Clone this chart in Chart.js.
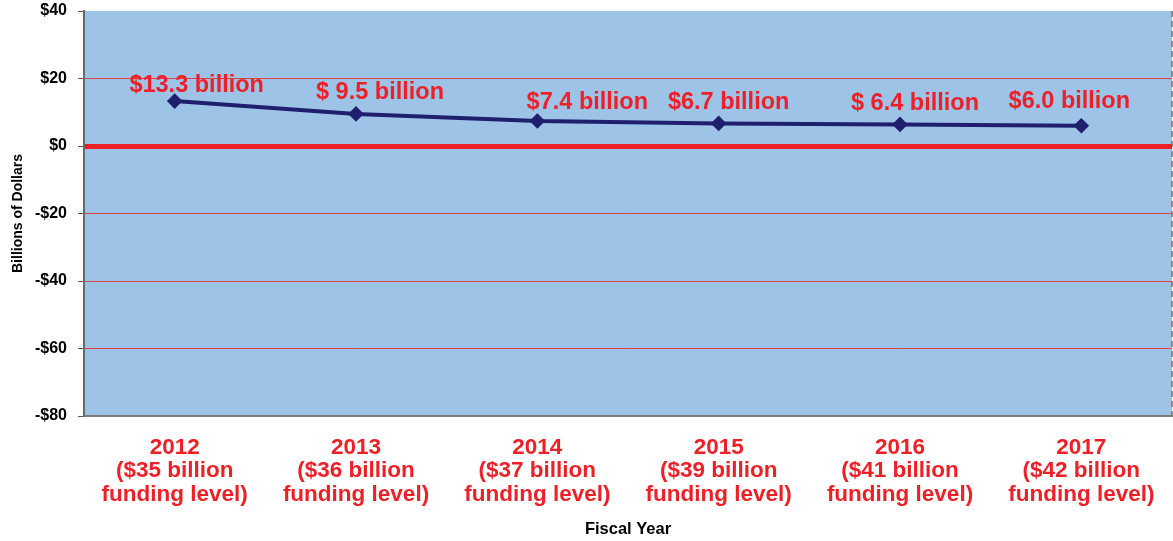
<!DOCTYPE html>
<html>
<head>
<meta charset="utf-8">
<script src="https://cdn.jsdelivr.net/npm/chart.js@4.4.1/dist/chart.umd.min.js"></script>
<style>
  html, body { margin: 0; padding: 0; background: #fff; }
  #wrap { width: 1173px; height: 541px; }
</style>
</head>
<body>
<div id="wrap"><canvas id="chart" width="1173" height="541"></canvas></div>
<script>
// data
const years = ["2012", "2013", "2014", "2015", "2016", "2017"];
const funding = ["$35", "$36", "$37", "$39", "$41", "$42"];
const values = [13.3, 9.5, 7.4, 6.7, 6.4, 6.0];
const valueLabels = ["$13.3 billion", "$ 9.5 billion", "$7.4 billion", "$6.7 billion", "$ 6.4 billion", "$6.0 billion"];
const yTicks = [40, 20, 0, -20, -40, -60, -80];

const RED = "#ee2027";
const FONT = "'Liberation Sans', Arial, sans-serif";

// plot background + right border
const plotBg = {
  id: "plotBg",
  beforeDraw(chart) {
    const { ctx, chartArea: a } = chart;
    ctx.save();
    ctx.fillStyle = "#9dc3e6";
    ctx.fillRect(a.left, a.top, a.right - a.left, a.bottom - a.top);
    ctx.strokeStyle = "#888";
    ctx.lineWidth = 2;
    ctx.setLineDash([6, 4]);
    ctx.beginPath();
    ctx.moveTo(a.right, a.top);
    ctx.lineTo(a.right, a.bottom);
    ctx.stroke();
    ctx.restore();
  }
};

// red value labels above the points (small nudges like the original)
const labelShift = [22, 24, 50, 10, 15, -12];
const labelRise = [15.5, 21, 19, 21, 21, 24];
const valueLabelPlugin = {
  id: "valueLabels",
  afterDatasetsDraw(chart) {
    const { ctx } = chart;
    const pts = chart.getDatasetMeta(0).data;
    ctx.save();
    ctx.font = "bold 23.5px " + FONT;
    ctx.fillStyle = RED;
    ctx.textAlign = "center";
    ctx.textBaseline = "middle";
    pts.forEach((p, i) => {
      ctx.fillText(valueLabels[i], p.x + labelShift[i], p.y - labelRise[i]);
    });
    ctx.restore();
  }
};

new Chart(document.getElementById("chart").getContext("2d"), {
  type: "line",
  data: {
    labels: years.map((y, i) => [y, "(" + funding[i] + " billion", "funding level)"]),
    datasets: [{
      data: values,
      borderColor: "#1f1f6e",
      backgroundColor: "#1f1f6e",
      borderWidth: 4,
      pointStyle: "rectRot",
      pointRadius: 5,
      pointHoverRadius: 5,
      tension: 0
    }]
  },
  options: {
    responsive: false,
    animation: false,
    layout: { autoPadding: false, padding: { top: 11, right: 1, left: 0, bottom: 0 } },
    plugins: {
      legend: { display: false },
      tooltip: { enabled: false }
    },
    scales: {
      x: {
        offset: true,
        grid: { display: false, drawTicks: false },
        border: { display: true, color: "#7a7a7a", width: 2 },
        ticks: {
          color: RED,
          font: { family: FONT, size: 22.5, weight: "bold", lineHeight: 1.045 },
          padding: 20,
          maxRotation: 0,
          autoSkip: false
        },
        title: {
          display: true,
          text: "Fiscal Year",
          color: "#000",
          font: { family: FONT, size: 16.5, weight: "bold" },
          padding: { top: 8, bottom: 2 }
        },
        afterFit(scale) {
          scale.height = 125;
          scale.paddingLeft = 0;
          scale.paddingRight = 0;
        }
      },
      y: {
        min: -80,
        max: 40,
        afterBuildTicks(scale) { scale.ticks = yTicks.map(v => ({ value: v })); },
        grid: {
          color: c => (c.tick && (c.tick.value === 40 || c.tick.value === -80)) ? "rgba(0,0,0,0)" : (c.tick && c.tick.value === 0 ? "#ee2027" : "#e04040"),
          lineWidth: c => (c.tick && c.tick.value === 0) ? 5 : 1,
          tickColor: "#555",
          tickWidth: 1,
          tickLength: 6
        },
        border: { display: true, color: "#6a6a6a", width: 2 },
        ticks: {
          color: "#000",
          font: { family: FONT, size: 16, weight: "bold" },
          padding: 11,
          callback: v => (v < 0 ? "-$" + Math.abs(v) : "$" + v)
        },
        title: {
          display: true,
          text: "Billions of Dollars",
          color: "#000",
          font: { family: FONT, size: 14, weight: "bold" },
          padding: { top: 10, bottom: 0 }
        },
        afterFit(scale) {
          scale.width = 84;
          scale.paddingTop = 0;
          scale.paddingBottom = 0;
        }
      }
    }
  },
  plugins: [plotBg, valueLabelPlugin]
});
</script>
</body>
</html>
